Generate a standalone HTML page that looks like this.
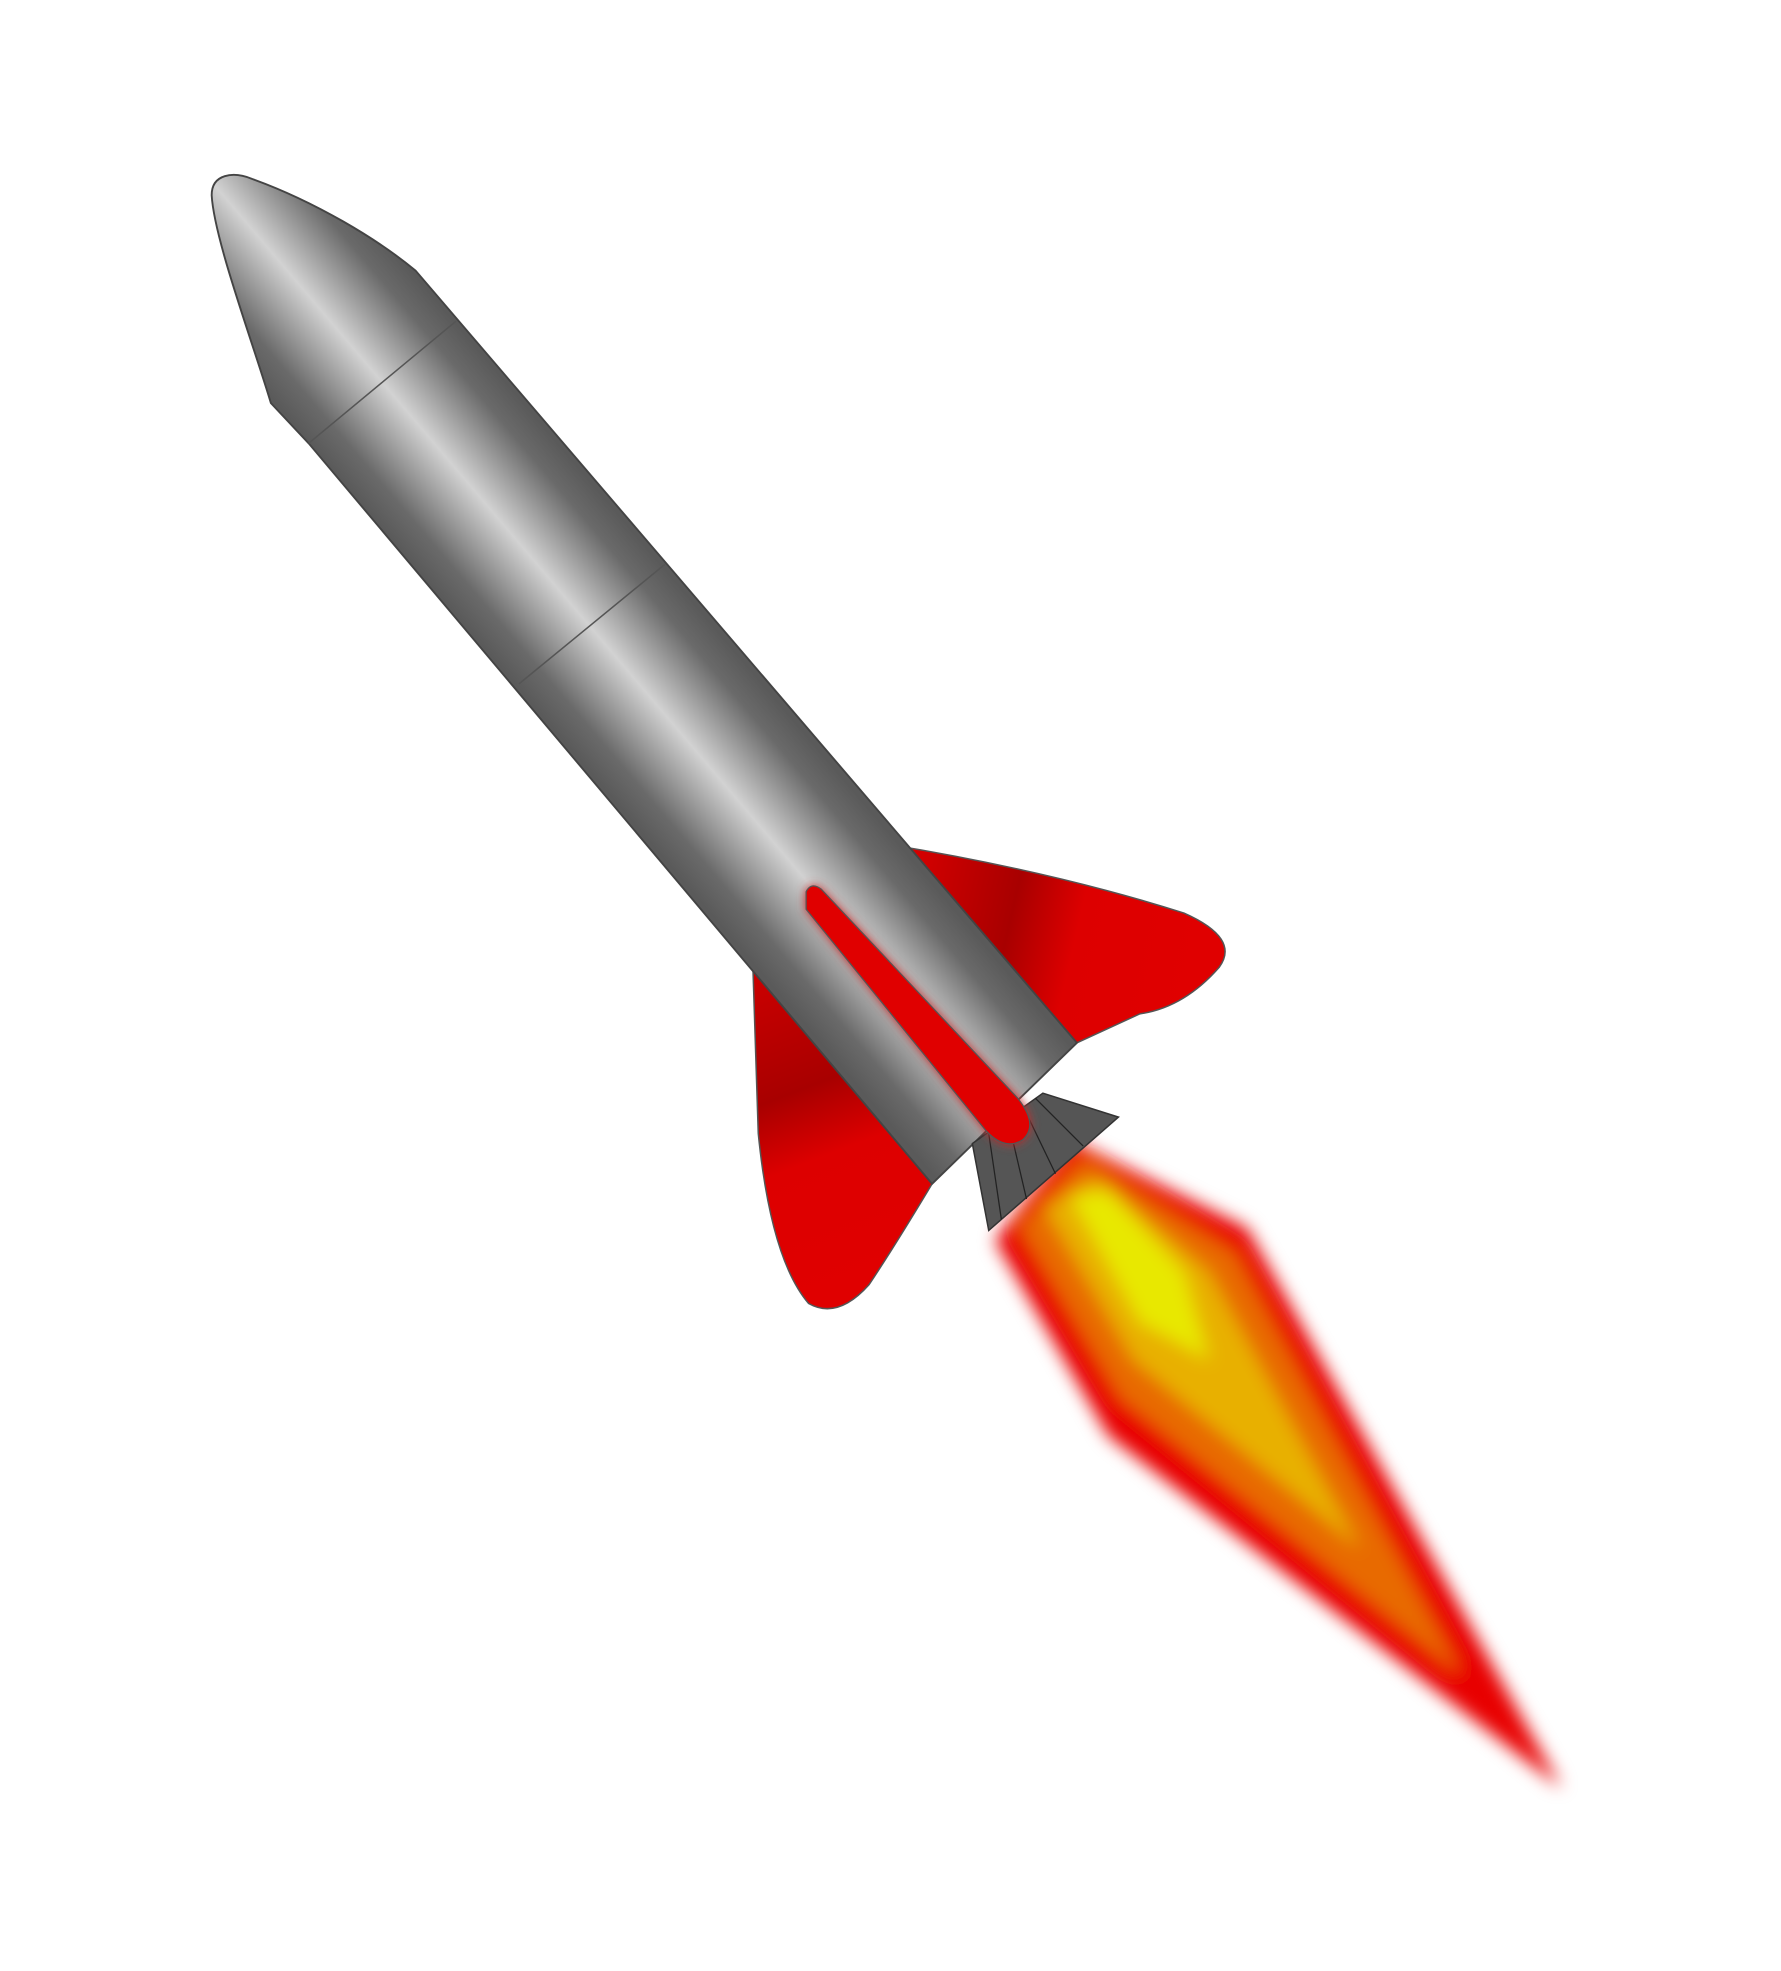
<!DOCTYPE html>
<html><head><meta charset="utf-8"><style>
html,body{margin:0;padding:0;background:#fff;}
svg{display:block;}
</style></head><body>
<svg width="1781" height="1971" viewBox="0 0 1414 1565" xmlns="http://www.w3.org/2000/svg">
<defs>
<linearGradient id="bodyG" gradientUnits="userSpaceOnUse" x1="500" y1="650" x2="614" y2="553">
<stop offset="0" stop-color="#5a5a5a"/><stop offset="0.15" stop-color="#6a6a6a"/><stop offset="0.5" stop-color="#d2d2d2"/><stop offset="0.85" stop-color="#6a6a6a"/><stop offset="1" stop-color="#5a5a5a"/>
</linearGradient>
<linearGradient id="finG" gradientUnits="userSpaceOnUse" x1="700" y1="700" x2="960" y2="760">
<stop offset="0" stop-color="#e00000"/><stop offset="0.4" stop-color="#a80000"/><stop offset="0.6" stop-color="#dd0000"/><stop offset="1" stop-color="#e00000"/>
</linearGradient>
<linearGradient id="finG2" gradientUnits="userSpaceOnUse" x1="600" y1="760" x2="700" y2="1020">
<stop offset="0" stop-color="#d00000"/><stop offset="0.4" stop-color="#a80000"/><stop offset="0.6" stop-color="#dd0000"/><stop offset="1" stop-color="#e00000"/>
</linearGradient>
<filter id="blur" x="-20%" y="-20%" width="140%" height="140%"><feGaussianBlur stdDeviation="7"/></filter>
<filter id="blur2" x="-20%" y="-20%" width="140%" height="140%"><feGaussianBlur stdDeviation="4"/></filter>
</defs>
<g filter="url(#blur)">
<path d="M790,985 L850,905 Q900,930 990,975 L1240,1420 L880,1140 Z" fill="#e80000"/>
<path d="M810,975 L860,920 L980,995 L1160,1330 L890,1110 Z" fill="#e86a00"/>
<path d="M830,960 L870,935 L960,1010 L1080,1230 L900,1080 Z" fill="#e8b000"/>
<path d="M850,950 L880,945 L940,1010 L960,1080 L905,1050 Z" fill="#e8e800"/>
</g>
<path d="M690,668 Q830,690 940,725 Q985,745 968,768 Q940,800 905,805 L855,828 Z" fill="url(#finG)" stroke="#555" stroke-width="1.2"/>
<path d="M597,745 L740,940 Q710,990 690,1020 Q665,1048 642,1035 Q612,1000 602,900 Z" fill="url(#finG2)" stroke="#555" stroke-width="1.2"/>
<path d="M215,320 C200,270 170,190 168,155 C168,138 185,136 200,142 C250,160 300,190 330,215 L855,828 L740,940 L245,352 Z" fill="url(#bodyG)" stroke="#444" stroke-width="1.5"/>
<g stroke="#555" stroke-width="1.2" fill="none">
<line x1="245" y1="352" x2="362" y2="255"/>
<line x1="412" y1="543" x2="528" y2="448"/>
</g>
<g>
<polygon points="772,908 785,977 888,887 828,868" fill="#555" stroke="#333" stroke-width="1.2"/>
<g stroke="#222" stroke-width="1">
<line x1="785" y1="900" x2="795" y2="968"/>
<line x1="800" y1="888" x2="815" y2="952"/>
<line x1="812" y1="878" x2="838" y2="932"/>
<line x1="822" y1="872" x2="860" y2="910"/>
</g>
</g>
<path d="M640,708 Q644,700 652,706 L808,872 Q825,893 812,905 Q798,914 783,898 L640,722 Z" fill="#e00000" stroke="#555" stroke-width="1.2" filter="url(#blur2)"/>
<path d="M640,708 Q644,700 652,706 L808,872 Q825,893 812,905 Q798,914 783,898 L640,722 Z" fill="#e00000" stroke="#555" stroke-width="1"/>
</svg>
</body></html>
